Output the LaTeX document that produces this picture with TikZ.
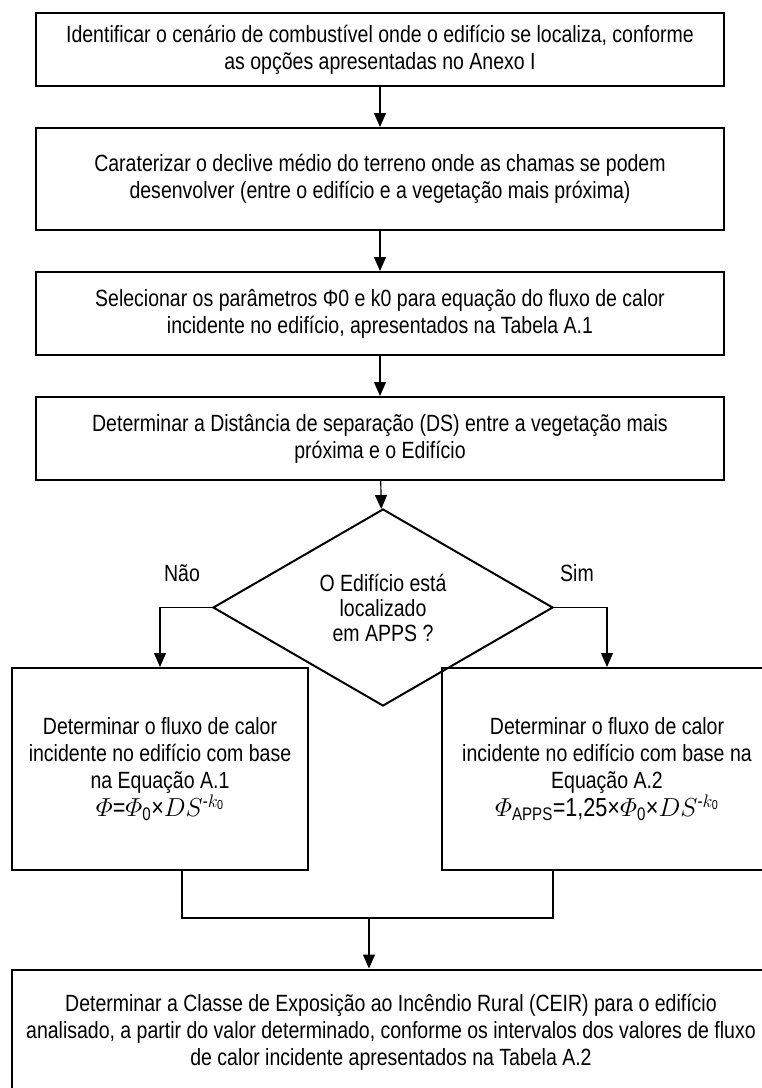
\documentclass[tikz,border=0pt]{standalone}
\usepackage{fix-cm}
\usepackage{amsmath}
\usepackage{fontspec}
\setmainfont[FakeStretch=0.83]{Liberation Sans}
\usetikzlibrary{positioning,shapes.geometric,arrows.meta}

\newcommand{\eqsize}{\fontsize{26}{27}\selectfont}

\begin{document}
\begin{tikzpicture}[x=1pt,y=-1pt,font={\fontsize{23.5}{27}\selectfont},
    every node/.style={align=center,inner sep=0pt},
    stepbox/.style={draw,line width=2pt,minimum width=688pt},
    sidebox/.style={draw,line width=2pt,minimum height=202pt},
    decision/.style={draw,diamond,aspect=1.73,line width=2pt,minimum width=340pt,minimum height=197pt},
    link/.style={line width=1.2pt},
    >={Triangle[length=14pt,width=12pt]}]
    \useasboundingbox (0,0) rectangle (762,1088);

    \node[stepbox,minimum height=73pt] (ident) at (380,49.5) {Identificar o cenário de combustível onde o edifício se localiza, conforme\\as opções apresentadas no Anexo I};
    \node[stepbox,minimum height=102pt,below=40pt of ident] (slope) {Caraterizar o declive médio do terreno onde as chamas se podem\\desenvolver (entre o edifício e a vegetação mais próxima)};
    \node[stepbox,minimum height=83pt,below=40pt of slope] (param) {Selecionar os parâmetros Φ0 e k0 para equação do fluxo de calor\\incidente no edifício, apresentados na Tabela A.1};
    \node[stepbox,minimum height=83pt,below=40pt of param] (dist) {Determinar a Distância de separação (DS) entre a vegetação mais\\próxima e o Edifício};
    \node[decision,below=27pt of dist,xshift=3pt,font={\fontsize{23.5}{25}\selectfont}] (apps) {O Edifício está\\localizado\\em APPS ?};

    \node (no) at (182,573) {Não};
    \node (yes) at (577,573) {Sim};

    \node[sidebox,minimum width=296pt] (fluxA) at (160,769) {Determinar o fluxo de calor\\incidente no edifício com base\\na Equação A.1\\{\eqsize$\varPhi$=$\varPhi_{\text{0}}$×$DS^{\text{-}k_{\text{0}}}$}};
    \node[sidebox,minimum width=330pt] (fluxB) at (607,769) {Determinar o fluxo de calor\\incidente no edifício com base na\\Equação A.2\\{\eqsize$\varPhi_{\text{APPS}}$=1,25×$\varPhi_{\text{0}}$×$DS^{\text{-}k_{\text{0}}}$}};

    \node[draw,line width=2pt,minimum width=758pt,minimum height=125pt] (ceir) at (391,1032) {Determinar a Classe de Exposição ao Incêndio Rural (CEIR) para o edifício\\analisado, a partir do valor determinado, conforme os intervalos dos valores de fluxo\\de calor incidente apresentados na Tabela A.2};

    \foreach \u / \v in {ident/slope,slope/param,param/dist,dist/apps}
        \draw[->,link] (\u) -- (\v);
    \draw[->,link] (apps.west) -| (fluxA.north);
    \draw[->,link] (apps.east) -| (fluxB.north);

    \coordinate (joinL) at (182,918);
    \coordinate (joinR) at (553,918);
    \coordinate (joinC) at (369,918);
    \draw[link] (fluxA.south -| joinL) -- (joinL) -- (joinR) -- (fluxB.south -| joinR);
    \draw[->,link] (joinC) -- (joinC |- ceir.north);
\end{tikzpicture}
\end{document}
